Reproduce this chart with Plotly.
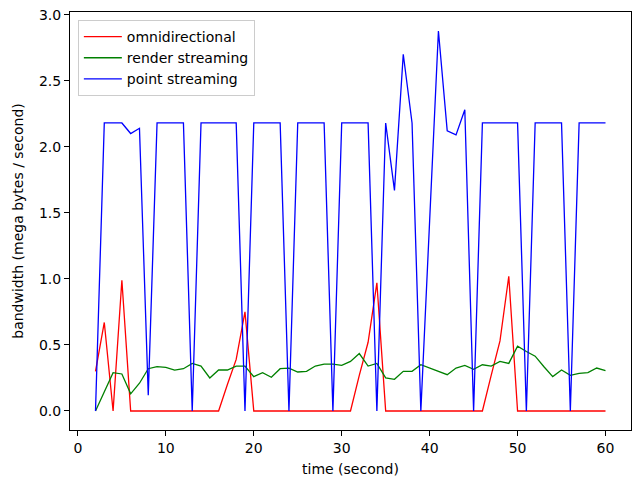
import plotly.graph_objects as go

time = list(range(2, 61))

omnidirectional = ([0.30, 0.67, 0.0, 0.99]            # x = 2..5
                   + [0.0] * 11                        # x = 6..16
                   + [0.20, 0.39, 0.75]                # x = 17..19
                   + [0.0] * 12                        # x = 20..31
                   + [0.27, 0.52, 0.97]                # x = 32..34
                   + [0.0] * 12                        # x = 35..46
                   + [0.27, 0.53, 1.02]                # x = 47..49
                   + [0.0] * 11)                       # x = 50..60

render_streaming = [0.0, 0.15, 0.29, 0.28, 0.13, 0.21, 0.32, 0.335, 0.33, 0.31,
                    0.32, 0.36, 0.34, 0.25, 0.31, 0.31, 0.34, 0.34, 0.26, 0.29,
                    0.255, 0.32, 0.325, 0.295, 0.30, 0.34, 0.355, 0.355, 0.345, 0.375,
                    0.435, 0.34, 0.36, 0.25, 0.24, 0.30, 0.30, 0.35, 0.325, 0.30,
                    0.275, 0.325, 0.345, 0.315, 0.35, 0.34, 0.375, 0.36, 0.49, 0.45,
                    0.415, 0.335, 0.26, 0.31, 0.27, 0.285, 0.29, 0.325, 0.305]

point_streaming = [0.0, 2.18, 2.18, 2.18, 2.10, 2.14, 0.12, 2.18, 2.18, 2.18,
                   2.18, 0.0, 2.18, 2.18, 2.18, 2.18, 2.18, 0.0, 2.18, 2.18,
                   2.18, 2.18, 0.0, 2.18, 2.18, 2.18, 2.18, 0.0, 2.18, 2.18,
                   2.18, 2.18, 0.0, 2.18, 1.67, 2.70, 2.18, 0.0, 1.44, 2.876,
                   2.12, 2.09, 2.28, 0.0, 2.18, 2.18, 2.18, 2.18, 2.18, 0.0,
                   2.18, 2.18, 2.18, 2.18, 0.0, 2.18, 2.18, 2.18, 2.18]

series = [
    ("omnidirectional", omnidirectional, "#ff0000"),
    ("render streaming", render_streaming, "#008000"),
    ("point streaming", point_streaming, "#0000ff"),
]

fig = go.Figure()
for name, vals, color in series:
    fig.add_trace(go.Scatter(x=time, y=vals, mode="lines", name=name,
                             line=dict(color=color, width=1.3)))

axis_common = dict(showline=True, linecolor="black", linewidth=1, mirror=True,
                   ticks="outside", ticklen=5, tickwidth=1, tickcolor="black",
                   showgrid=False, zeroline=False, automargin=False,
                   tickfont=dict(family="DejaVu Sans", size=14, color="black"))

fig.update_layout(
    width=633, height=478,
    margin=dict(l=70, r=2, t=12, b=48),
    paper_bgcolor="white", plot_bgcolor="white",
    font=dict(family="DejaVu Sans", size=14, color="black"),
    xaxis=dict(range=[-0.9, 62.9], tickmode="array",
               tickvals=[0, 10, 20, 30, 40, 50, 60],
               title=dict(text="time (second)", standoff=9,
                          font=dict(family="DejaVu Sans", size=14)),
               **axis_common),
    yaxis=dict(range=[-0.144, 3.02], tickmode="array",
               tickvals=[0.0, 0.5, 1.0, 1.5, 2.0, 2.5, 3.0], tickformat=".1f",
               title=dict(text="bandwidth (mega bytes / second)", standoff=12,
                          font=dict(family="DejaVu Sans", size=14)),
               **axis_common),
    legend=dict(x=0.014, y=0.981, xanchor="left", yanchor="top",
                bgcolor="rgba(255,255,255,0.8)", bordercolor="#cccccc",
                borderwidth=1, font=dict(family="DejaVu Sans", size=14),
                tracegroupgap=0, itemwidth=38),
    showlegend=True,
)

fig.write_html("out.html",
               config={"displayModeBar": False},
               post_script="document.body.style.margin='0px';document.body.style.overflow='hidden';")
